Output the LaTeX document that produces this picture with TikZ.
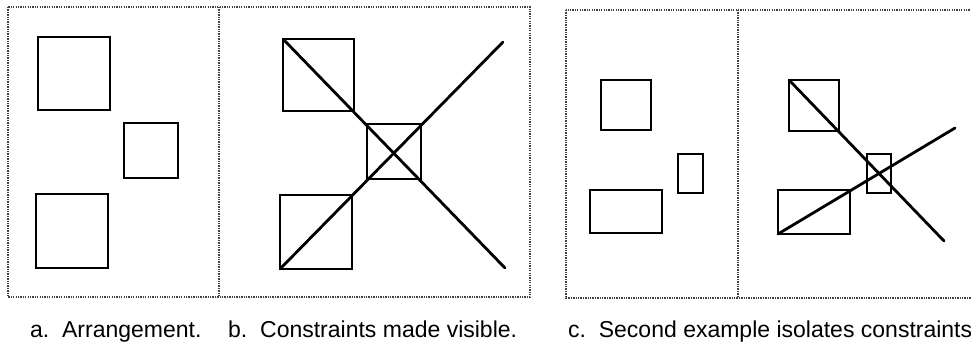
\documentclass[tikz,border=0pt]{standalone}
\usepackage{fontspec}
\setmainfont{Liberation Sans}
\begin{document}
\begin{tikzpicture}[x=1pt,y=-1pt,
  frame/.style={draw=black!75, line width=1.3pt, dash pattern=on 1.3pt off 1.1pt},
  box/.style={draw, line width=1.7pt, inner sep=0pt, outer sep=0pt},
  cons/.style={draw, line width=2.8pt, line cap=round},
  captext/.style={anchor=base west, inner sep=0pt, font=\fontsize{23}{26}\selectfont}]
\clip (0,0) rectangle (971,348);
\fill[white] (0,0) rectangle (971,348);
% frames
\draw[frame] (8,7) rectangle (530,297);
\draw[frame] (219,7) -- (219,297);
\draw[frame] (566,10) rectangle (985,298);
\draw[frame] (738,10) -- (738,298);
% panel a
\node[box, minimum width=72pt, minimum height=73pt] (a1) at (74,73.5) {};
\node[box, minimum width=54pt, minimum height=55pt] (a2) at (151,150.5) {};
\node[box, minimum width=72pt, minimum height=74pt] (a3) at (72,231) {};
% panel b
\node[box, minimum width=71pt, minimum height=72pt] (b1) at (318.5,75) {};
\node[box, minimum width=54pt, minimum height=55pt] (b2) at (394,151.5) {};
\node[box, minimum width=72pt, minimum height=74pt] (b3) at (316,232) {};
\coordinate (be1) at (505,268);
\coordinate (be2) at (503,42);
\draw[cons] (b1.north west) -- (be1);
\draw[cons] (b3.south west) -- (be2);
% panel c
\node[box, minimum width=50pt, minimum height=50pt] (c1) at (626,105) {};
\node[box, minimum width=25pt, minimum height=39pt] (c2) at (690.5,173.5) {};
\node[box, minimum width=72pt, minimum height=43pt] (c3) at (626,211.5) {};
% panel d
\node[box, minimum width=50pt, minimum height=51pt] (d1) at (814,105.5) {};
\node[box, minimum width=24pt, minimum height=39pt] (d2) at (879,173.5) {};
\node[box, minimum width=72pt, minimum height=44pt] (d3) at (814,212) {};
\coordinate (de1) at (944,241);
\coordinate (de2) at (955,128);
\draw[cons] (d1.north west) -- (de1);
\draw[cons] (d3.south west) -- (de2);
% captions
\node[captext] (ca) at (30,337) {a.\ \ Arrangement.};
\node[captext] (cb) at (228,337) {b.\ \ Constraints made visible.};
\node[captext] (cc) at (568,337) {c.\ \ Second example isolates constraints};
\end{tikzpicture}
\end{document}
